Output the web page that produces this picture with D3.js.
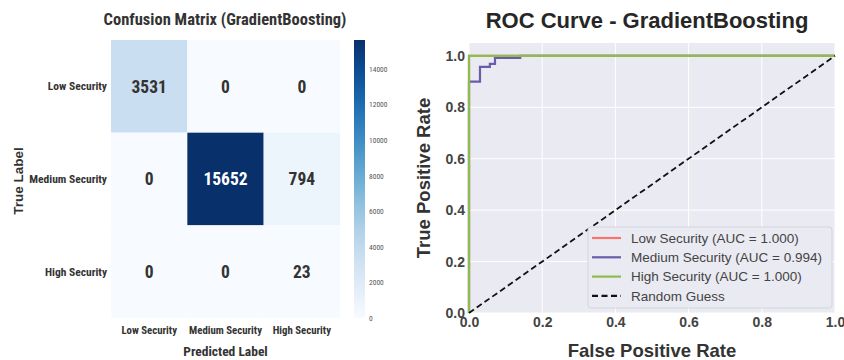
<!DOCTYPE html>
<html>
<head>
<meta charset="utf-8">
<script src="https://cdn.jsdelivr.net/npm/d3@7"></script>
<style>
  body { margin: 0; background: #fff; }
  svg { display: block; }
</style>
</head>
<body>
<svg id="chart" width="844" height="360"></svg>
<script>
// confusion matrix data
var classes = ["Low Security", "Medium Security", "High Security"];
var matrix = [
  [3531, 0, 0],
  [0, 15652, 794],
  [0, 0, 23]
];
var colorTicks = [0, 2000, 4000, 6000, 8000, 10000, 12000, 14000];

// roc data
var curveNames = ["Low Security", "Medium Security", "High Security"];
var curveAuc = ["1.000", "0.994", "1.000"];
var curveColors = ["#f8736a", "#6a5cab", "#8cbd4d"];
var lowFpr = [0, 0, 1];
var lowTpr = [0, 1, 1];
var medFpr = [0, 0, 0.03, 0.03, 0.057, 0.057, 0.071, 0.071, 0.14, 0.14, 1];
var medTpr = [0, 0.9, 0.9, 0.957, 0.957, 0.969, 0.969, 0.992, 0.992, 1, 1];
var highFpr = [0, 0, 1];
var highTpr = [0, 1, 1];
var rocTicks = [0, 0.2, 0.4, 0.6, 0.8, 1.0];

var svg = d3.select('#chart');
var narrow = '"Liberation Sans Narrow", "Roboto Condensed", "DejaVu Sans Condensed", sans-serif';
var sans = '"Liberation Sans", Arial, sans-serif';

// ---------- heatmap ----------
var hm = {left: 111, right: 340, top: 40, bottom: 318};
var x = d3.scaleBand().domain(d3.range(3)).range([hm.left, hm.right]);
var y = d3.scaleBand().domain(d3.range(3)).range([hm.top, hm.bottom]);
var maxVal = d3.max(matrix, function(r) { return d3.max(r); });
var color = d3.scaleSequential(d3.interpolateBlues).domain([0, maxVal]);

var cells = [];
matrix.forEach(function(row, i) {
  row.forEach(function(v, j) { cells.push({i: i, j: j, v: v}); });
});

var left = svg.append('g');
left.selectAll('rect.cell')
  .data(cells)
  .enter()
  .append('rect')
    .attr('x', function(d) { return x(d.j); })
    .attr('y', function(d) { return y(d.i); })
    .attr('width', x.bandwidth())
    .attr('height', y.bandwidth())
    .attr('fill', function(d) { return color(d.v); });

left.selectAll('text.val')
  .data(cells)
  .enter()
  .append('text')
    .attr('x', function(d) { return x(d.j) + x.bandwidth()/2; })
    .attr('y', function(d) { return y(d.i) + y.bandwidth()/2; })
    .attr('dy', '0.36em')
    .attr('text-anchor', 'middle')
    .attr('font-family', narrow)
    .attr('font-weight', 'bold')
    .attr('font-size', 17.5)
    .attr('fill', function(d) { return d.v > maxVal/2 ? '#fff' : '#333'; })
    .text(function(d) { return d.v; });

left.selectAll('text.rowlab')
  .data(classes)
  .enter()
  .append('text')
    .attr('x', hm.left - 4)
    .attr('y', function(d, i) { return y(i) + y.bandwidth()/2; })
    .attr('dy', '0.35em')
    .attr('text-anchor', 'end')
    .attr('font-family', narrow)
    .attr('font-weight', 'bold')
    .attr('font-size', 11.5)
    .attr('fill', '#333')
    .text(function(d) { return d; });

left.selectAll('text.collab')
  .data(classes)
  .enter()
  .append('text')
    .attr('x', function(d, i) { return x(i) + x.bandwidth()/2; })
    .attr('y', 334)
    .attr('text-anchor', 'middle')
    .attr('font-family', narrow)
    .attr('font-weight', 'bold')
    .attr('font-size', 10.8)
    .attr('fill', '#333')
    .text(function(d) { return d; });

left.append('text')
  .attr('x', (hm.left + hm.right)/2)
  .attr('y', 356)
  .attr('text-anchor', 'middle')
  .attr('font-family', narrow)
  .attr('font-weight', 'bold')
  .attr('font-size', 13.5)
  .attr('fill', '#333')
  .text('Predicted Label');

left.append('text')
  .attr('transform', 'translate(23,181) rotate(-90)')
  .attr('text-anchor', 'middle')
  .attr('font-family', sans)
  .attr('font-weight', 'bold')
  .attr('font-size', 13.5)
  .attr('fill', '#333')
  .text('True Label');

left.append('text')
  .attr('x', 225)
  .attr('y', 25)
  .attr('text-anchor', 'middle')
  .attr('font-family', narrow)
  .attr('font-weight', 'bold')
  .attr('font-size', 16.5)
  .attr('fill', '#333')
  .text('Confusion Matrix (GradientBoosting)');

// colorbar
var cb = {x: 354, w: 11};
var cy = d3.scaleLinear().domain([0, maxVal]).range([hm.bottom, hm.top]);
var defs = svg.append('defs');
var grad = defs.append('linearGradient')
  .attr('id', 'cbgrad')
  .attr('x1', 0).attr('y1', 1).attr('x2', 0).attr('y2', 0);
d3.range(0, 1.01, 0.1).forEach(function(t) {
  grad.append('stop').attr('offset', t).attr('stop-color', d3.interpolateBlues(t));
});
left.append('rect')
  .attr('x', cb.x)
  .attr('y', hm.top)
  .attr('width', cb.w)
  .attr('height', hm.bottom - hm.top)
  .attr('fill', 'url(#cbgrad)');
left.selectAll('text.cbtick')
  .data(colorTicks)
  .enter()
  .append('text')
    .attr('x', cb.x + cb.w + 4)
    .attr('y', function(d) { return cy(d); })
    .attr('dy', '0.35em')
    .attr('font-family', narrow)
    .attr('font-size', 7.5)
    .attr('fill', '#555')
    .text(function(d) { return d; });

// ---------- ROC ----------
var pl = {left: 469, right: 835, top: 43, bottom: 313};
var rx = d3.scaleLinear().domain([0, 1]).range([pl.left, pl.right]);
var ry = d3.scaleLinear().domain([0, 1.05]).range([pl.bottom, pl.top]);
var right = svg.append('g');

right.append('rect')
  .attr('x', pl.left).attr('y', pl.top)
  .attr('width', pl.right - pl.left).attr('height', pl.bottom - pl.top)
  .attr('fill', '#eaeaf2');

right.selectAll('line.gx')
  .data(rocTicks)
  .enter()
  .append('line')
    .attr('x1', function(d) { return rx(d); })
    .attr('x2', function(d) { return rx(d); })
    .attr('y1', pl.top).attr('y2', pl.bottom)
    .attr('stroke', '#fff').attr('stroke-width', 1);
right.selectAll('line.gy')
  .data(rocTicks)
  .enter()
  .append('line')
    .attr('y1', function(d) { return ry(d); })
    .attr('y2', function(d) { return ry(d); })
    .attr('x1', pl.left).attr('x2', pl.right)
    .attr('stroke', '#fff').attr('stroke-width', 1);

var xAxis = right.append('g')
  .attr('transform', 'translate(0,' + pl.bottom + ')')
  .call(d3.axisBottom(rx).tickValues(rocTicks).tickFormat(d3.format('.1f')).tickSize(0).tickPadding(4));
var yAxis = right.append('g')
  .attr('transform', 'translate(' + pl.left + ',0)')
  .call(d3.axisLeft(ry).tickValues(rocTicks).tickFormat(d3.format('.1f')).tickSize(0).tickPadding(4));
[xAxis, yAxis].forEach(function(a) {
  a.select('.domain').remove();
  a.selectAll('text')
    .attr('font-family', sans)
    .attr('font-weight', 'bold')
    .attr('font-size', 14)
    .attr('fill', '#444');
});

var line = d3.line()
  .x(function(d) { return rx(d[0]); })
  .y(function(d) { return ry(d[1]); });
var curves = [
  d3.zip(lowFpr, lowTpr),
  d3.zip(medFpr, medTpr),
  d3.zip(highFpr, highTpr)
];
right.selectAll('path.roc')
  .data(curves)
  .enter()
  .append('path')
    .attr('d', line)
    .attr('fill', 'none')
    .attr('stroke', function(d, i) { return curveColors[i]; })
    .attr('stroke-width', 2.2);

right.append('path')
  .attr('d', line([[0, 0], [1, 1]]))
  .attr('fill', 'none')
  .attr('stroke', '#111')
  .attr('stroke-width', 1.8)
  .attr('stroke-dasharray', '6,3.5');

// legend
var lg = right.append('g').attr('transform', 'translate(588,227)');
lg.append('rect')
  .attr('width', 244).attr('height', 81).attr('rx', 3)
  .attr('fill', '#eaeaf2').attr('stroke', '#d4d4dc');
var entries = curveNames.map(function(n, i) {
  return {label: n + ' (AUC = ' + curveAuc[i] + ')', color: curveColors[i], dash: null};
});
entries.push({label: 'Random Guess', color: '#111', dash: '6,3.5'});
var row = lg.selectAll('g.entry')
  .data(entries)
  .enter()
  .append('g')
    .attr('transform', function(d, i) { return 'translate(0,' + (11 + i*19.3) + ')'; });
row.append('line')
  .attr('x1', 4).attr('x2', 33)
  .attr('stroke', function(d) { return d.color; })
  .attr('stroke-width', 2.2)
  .attr('stroke-dasharray', function(d) { return d.dash; });
row.append('text')
  .attr('x', 43)
  .attr('dy', '0.35em')
  .attr('font-family', sans)
  .attr('font-size', 13.5)
  .attr('fill', '#444')
  .text(function(d) { return d.label; });

right.append('text')
  .attr('x', 647).attr('y', 28)
  .attr('text-anchor', 'middle')
  .attr('font-family', sans)
  .attr('font-weight', 'bold')
  .attr('font-size', 22)
  .attr('fill', '#262626')
  .text('ROC Curve - GradientBoosting');

right.append('text')
  .attr('x', 652).attr('y', 357)
  .attr('text-anchor', 'middle')
  .attr('font-family', sans)
  .attr('font-weight', 'bold')
  .attr('font-size', 18.5)
  .attr('fill', '#333')
  .text('False Positive Rate');

right.append('text')
  .attr('transform', 'translate(430,' + ((pl.top + pl.bottom)/2) + ') rotate(-90)')
  .attr('text-anchor', 'middle')
  .attr('font-family', sans)
  .attr('font-weight', 'bold')
  .attr('font-size', 18.5)
  .attr('fill', '#333')
  .text('True Positive Rate');
</script>
</body>
</html>
